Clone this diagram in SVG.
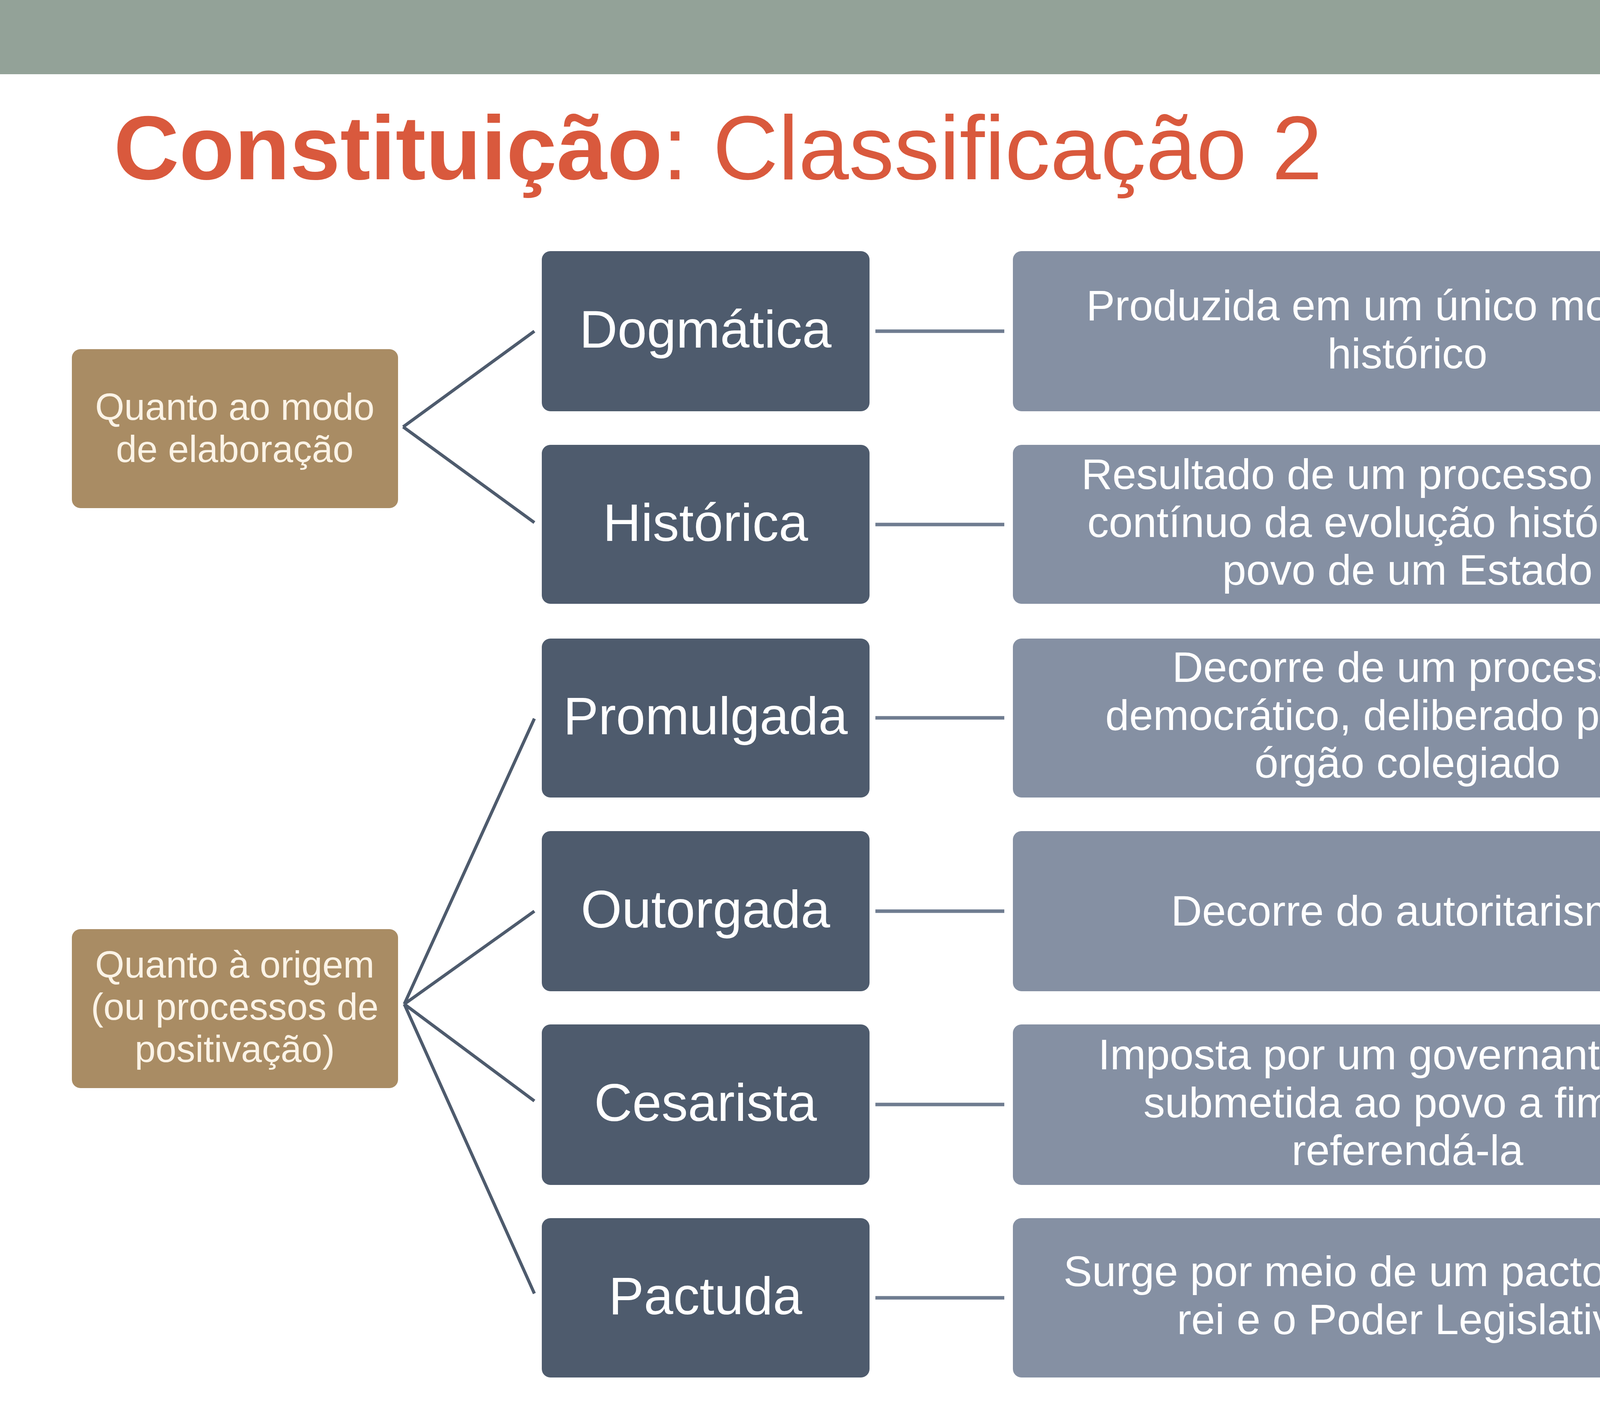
<svg xmlns="http://www.w3.org/2000/svg" width="4800" height="3600" viewBox="0 0 4800 3600">
<style>
.l{fill:#a98c64}
.m{fill:#4e5b6d}
.r{fill:#8590a3}
text{font-family:"Liberation Sans",Arial,sans-serif;text-anchor:middle}
.lt{fill:#fbf3e6;font-size:96px}
.mt{fill:#ffffff;font-size:135px}
.rt{fill:#ffffff;font-size:110px}
.c{stroke:#4e5b6d;stroke-width:8;fill:none}
.h{stroke:#6f7c90;stroke-width:9;fill:none}
</style>
<rect width="4800" height="190" fill="#93a298"/>
<text x="291" y="459" style="text-anchor:start;font-size:232px;fill:#d9593d"><tspan font-weight="bold">Constituição</tspan>: Classificação 2</text>
<g id="connectors">
<path class="c" d="M1032 1093 L1368 848 M1032 1093 L1368 1338 M1035 2571 L1368 1840 M1035 2571 L1368 2333 M1035 2571 L1368 2819 M1035 2571 L1368 3312"/>
<path class="h" d="M2241 848H2571M2241 1343H2571M2241 1838H2571M2241 2333H2571M2241 2828H2571M2241 3323H2571"/>
</g>
<g id="modo"><rect class="l" x="184" y="894" width="835" height="407" rx="22"/><text class="lt" x="601" y="1075">Quanto ao modo</text><text class="lt" x="601" y="1183">de elaboração</text></g>
<g id="origem"><rect class="l" x="184" y="2379" width="835" height="407" rx="22"/><text class="lt" x="601" y="2503">Quanto à origem</text><text class="lt" x="601" y="2611">(ou processos de</text><text class="lt" x="601" y="2719">positivação)</text></g>
<g id="dogmatica"><rect class="m" x="1387" y="643" width="839" height="410" rx="22"/><text class="mt" x="1806" y="890">Dogmática</text></g>
<g id="historica"><rect class="m" x="1387" y="1139" width="839" height="407" rx="22"/><text class="mt" x="1806" y="1385">Histórica</text></g>
<g id="promulgada"><rect class="m" x="1387" y="1635" width="839" height="407" rx="22"/><text class="mt" x="1806" y="1880">Promulgada</text></g>
<g id="outorgada"><rect class="m" x="1387" y="2128" width="839" height="410" rx="22"/><text class="mt" x="1806" y="2375">Outorgada</text></g>
<g id="cesarista"><rect class="m" x="1387" y="2623" width="839" height="411" rx="22"/><text class="mt" x="1806" y="2870">Cesarista</text></g>
<g id="pactuda"><rect class="m" x="1387" y="3119" width="839" height="408" rx="22"/><text class="mt" x="1806" y="3365">Pactuda</text></g>
<g id="d1"><rect class="r" x="2593" y="643" width="2026" height="410" rx="22"/><text class="rt" x="3603" y="820">Produzida em um único momento</text><text class="rt" x="3603" y="943">histórico</text></g>
<g id="d2"><rect class="r" x="2593" y="1139" width="2026" height="407" rx="22"/><text class="rt" x="3603" y="1252">Resultado de um processo lento e</text><text class="rt" x="3603" y="1375">contínuo da evolução histórica do</text><text class="rt" x="3603" y="1497">povo de um Estado</text></g>
<g id="d3"><rect class="r" x="2593" y="1635" width="2026" height="407" rx="22"/><text class="rt" x="3603" y="1746">Decorre de um processo</text><text class="rt" x="3603" y="1869">democrático, deliberado por um</text><text class="rt" x="3603" y="1991">órgão colegiado</text></g>
<g id="d4"><rect class="r" x="2593" y="2128" width="2026" height="410" rx="22"/><text class="rt" x="3603" y="2370">Decorre do autoritarismo</text></g>
<g id="d5"><rect class="r" x="2593" y="2623" width="2026" height="411" rx="22"/><text class="rt" x="3603" y="2738">Imposta por um governante mas</text><text class="rt" x="3603" y="2861">submetida ao povo a fim de</text><text class="rt" x="3603" y="2983">referendá-la</text></g>
<g id="d6"><rect class="r" x="2593" y="3119" width="2026" height="408" rx="22"/><text class="rt" x="3603" y="3293">Surge por meio de um pacto entre o</text><text class="rt" x="3603" y="3416">rei e o Poder Legislativo</text></g>
</svg>
